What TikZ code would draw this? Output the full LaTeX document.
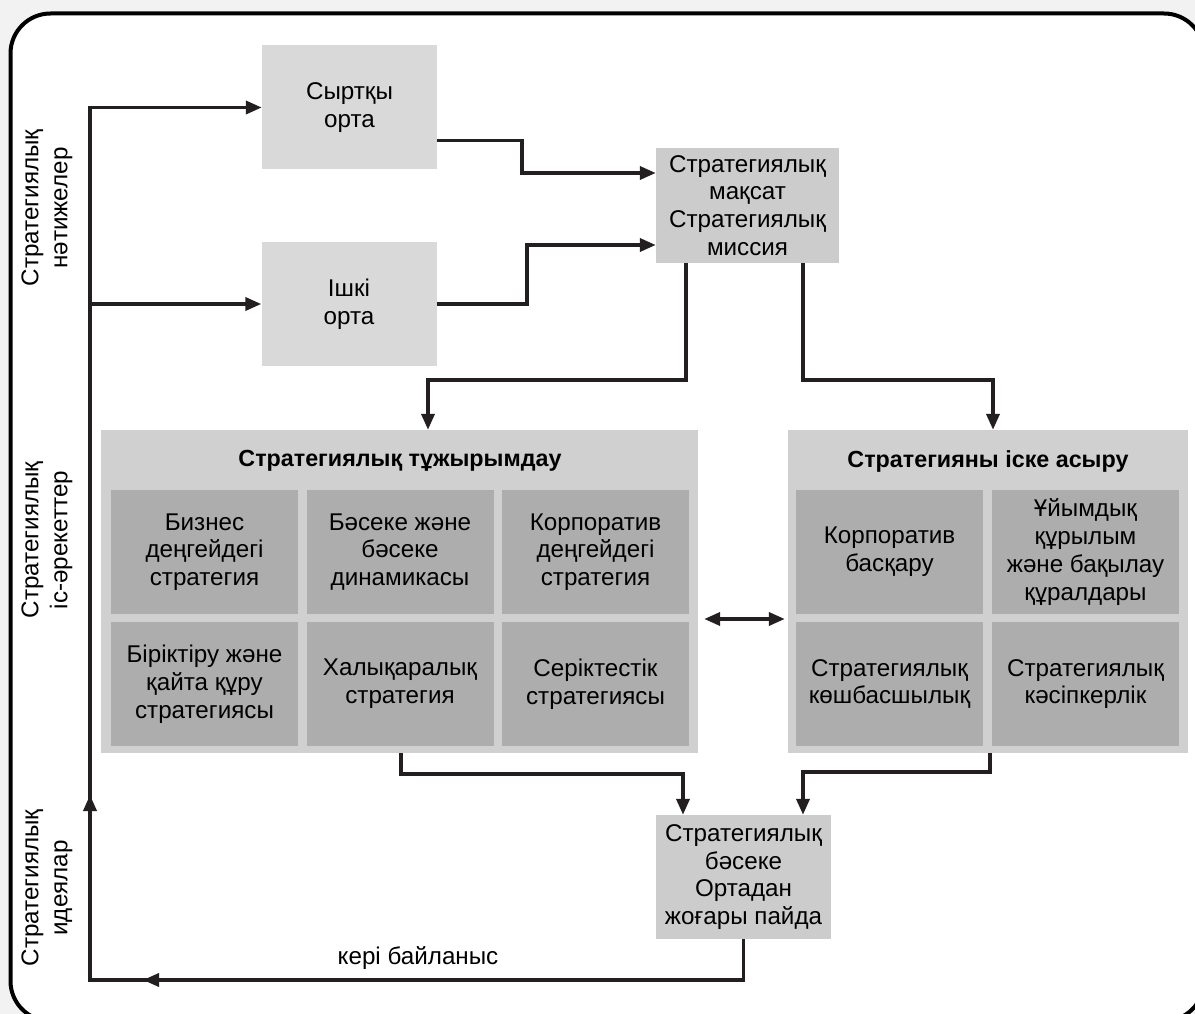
\documentclass[tikz,border=0pt]{standalone}
\usepackage{fontspec}
\setmainfont{Liberation Sans}
\usetikzlibrary{arrows.meta}
\definecolor{outbg}{HTML}{F2F2F2}
\definecolor{envgray}{HTML}{D9D9D9}
\definecolor{boxgray}{HTML}{CCCCCC}
\definecolor{biggray}{HTML}{D0D0D0}
\definecolor{cellgray}{HTML}{ADADAD}
\definecolor{linegray}{HTML}{231F20}
\tikzset{
  txt/.style={font=\fontsize{24.2}{27.8}\selectfont, align=center, inner sep=0pt, text=black},
  envbox/.style={txt, fill=envgray, minimum width=175pt, minimum height=124pt},
  midbox/.style={txt, fill=boxgray},
  bigbox/.style={fill=biggray, inner sep=0pt, minimum height=323pt},
  cellbox/.style={txt, fill=cellgray, minimum width=187pt, minimum height=124pt},
  titletxt/.style={font=\bfseries\fontsize{23.3}{27}\selectfont, inner sep=0pt},
  sidelabel/.style={txt, rotate=90, font=\fontsize{24.2}{29}\selectfont},
  conn/.style={draw=linegray, line width=3.6pt, line join=miter},
  arr/.style={conn, -{Triangle[length=16pt,width=13pt]}},
  dblarr/.style={conn, {Triangle[length=16pt,width=13pt]}-{Triangle[length=16pt,width=13pt]}}
}
\begin{document}
\begin{tikzpicture}[x=1pt,y=-1pt]
\useasboundingbox (0,0) rectangle (1195,1014);
\fill[outbg] (0,0) rectangle (1195,1014);
\begin{scope}
\clip (0,0) rectangle (1195,1014);
\draw[fill=white, line width=4pt, rounded corners=40pt] (10.5,13.5) rectangle (1204,1021);
\end{scope}

% side labels
\node[sidelabel] (lab1) at (47,208) {Стратегиялық\\нәтижелер};
\node[sidelabel] (lab2) at (47,540) {Стратегиялық\\іс-әрекеттер};
\node[sidelabel] (lab3) at (47,888) {Стратегиялық\\идеялар};

% top boxes
\node[envbox] (sirt) at (349.5,107.5) {Сыртқы\\орта};
\node[envbox] (ishki) at (349,304) {Ішкі\\орта};
\node[midbox, minimum width=183pt, minimum height=115pt] (miss) at (747.5,205.5) {Стратегиялық\\мақсат\\Стратегиялық\\миссия};

% big boxes
\node[bigbox, minimum width=597pt] (left) at (399.5,591.5) {};
\node[bigbox, minimum width=400pt] (right) at (988,591.5) {};
\node[titletxt] (lefttitle) at (400,461) {Стратегиялық тұжырымдау};
\node[titletxt] (righttitle) at (988,461) {Стратегияны іске асыру};

\node[cellbox] (c11) at (204.5,552) {Бизнес\\деңгейдегі\\стратегия};
\node[cellbox] (c12) at (400,552) {Бәсеке және\\бәсеке\\динамикасы};
\node[cellbox] (c13) at (595.5,552) {Корпоратив\\деңгейдегі\\стратегия};
\node[cellbox] (c21) at (204.5,684) {Біріктіру және\\қайта құру\\стратегиясы};
\node[cellbox] (c22) at (400,684) {Халықаралық\\стратегия};
\node[cellbox] (c23) at (595.5,684) {Серіктестік\\стратегиясы};

\node[cellbox] (r11) at (889.5,552) {Корпоратив\\басқару};
\node[cellbox] (r12) at (1085.5,552) {Ұйымдық\\құрылым\\және бақылау\\құралдары};
\node[cellbox] (r21) at (889.5,684) {Стратегиялық\\көшбасшылық};
\node[cellbox] (r22) at (1085.5,684) {Стратегиялық\\кәсіпкерлік};

% bottom box
\node[midbox, minimum width=175pt, minimum height=124pt] (bot) at (743.5,877) {Стратегиялық\\бәсеке\\Ортадан\\жоғары пайда};

\node[txt] (fb) at (418,958) {кері байланыс};

% coordinates
\coordinate (fbTip) at (143,980);
\coordinate (fbCorner) at (90,980);
\coordinate (upTip) at (90,795);
\coordinate (topCorner) at (90,107.5);
\coordinate (ishkiFork) at (90,304);
\coordinate (mL) at (428,380);
\coordinate (mR) at (993,380);
\coordinate (bL) at (683,774);
\coordinate (bR) at (803,772);

% feedback loop
\draw[arr] (bot.south) |- (fbCorner) -- (topCorner) -- (sirt.west);
\draw[arr] ([xshift=20pt]fbTip) -- (fbTip);
\draw[arr] ([yshift=-20pt]upTip) -- (upTip);
\draw[arr] (ishkiFork) -- (ishki.west);

% top boxes to mission
\draw[arr] ([yshift=-33pt]sirt.east) -- ++(85,0) |- ([yshift=32.5pt]miss.west);
\draw[arr] (ishki.east) -- ++(90,0) |- ([yshift=-39.5pt]miss.west);

% mission to big boxes
\draw[arr] ([xshift=-61.5pt]miss.south) |- (mL) -- (mL |- left.north);
\draw[arr] ([xshift=55.5pt]miss.south) |- (mR) -- (mR |- right.north);

% between big boxes
\draw[dblarr] ([xshift=6pt,yshift=-27.5pt]left.east) -- ([xshift=-3pt,yshift=-27.5pt]right.west);

% big boxes to bottom
\draw[arr] ([xshift=1.5pt]left.south) |- (bL) -- (bL |- bot.north);
\draw[arr] ([xshift=2pt]right.south) |- (bR) -- (bR |- bot.north);
\end{tikzpicture}
\end{document}
